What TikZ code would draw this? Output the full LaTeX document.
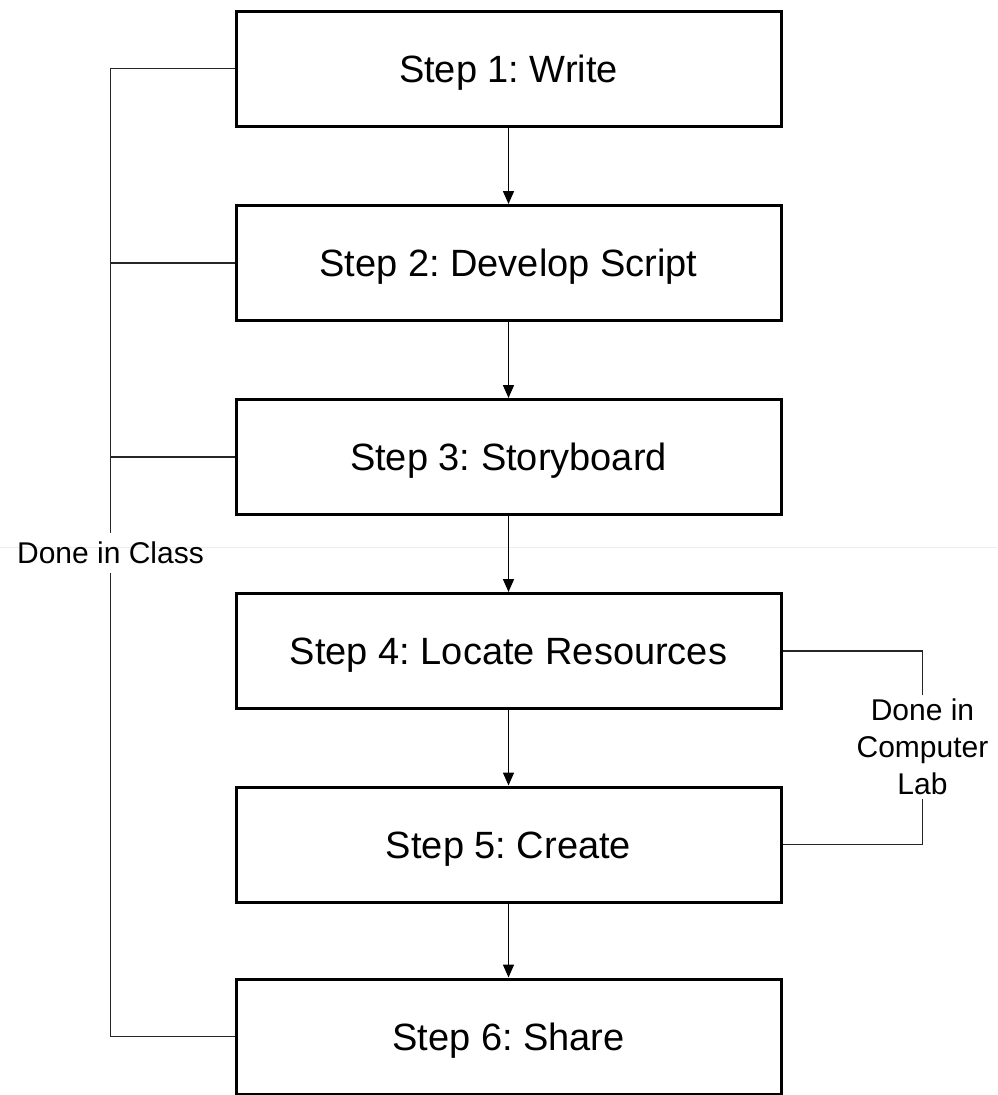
\documentclass[tikz,border=0pt]{standalone}
\usepackage{fontspec}
\setmainfont{Liberation Sans}
\usetikzlibrary{arrows.meta}
\begin{document}
\frenchspacing
\begin{tikzpicture}[x=1pt,y=1pt,
  stepbox/.style={draw=black,line width=3pt,minimum width=545pt,minimum height=115pt,inner sep=0pt,text height=27pt,text depth=0pt,font=\fontsize{38}{46}\selectfont},
  link/.style={draw=black!85,line width=1.5pt},
  flow/.style={draw=black,line width=1.5pt,-{Triangle[width=11pt,length=13pt]}},
  lbl/.style={font=\fontsize{30}{37}\selectfont,align=center,inner xsep=0pt}
]
\useasboundingbox (0,0) rectangle (997,-1095);
\draw[black!7,line width=0.8pt] (0,-547) -- (997,-547);
\node[stepbox] (b1) at (508.5,-68.5) {Step 1: Write};
\node[stepbox] (b2) at (508.5,-263) {Step 2: Develop Script};
\node[stepbox] (b3) at (508.5,-457) {Step 3: Storyboard};
\node[stepbox] (b4) at (508.5,-651) {Step 4: Locate Resources};
\node[stepbox] (b5) at (508.5,-844.5) {Step 5: Create};
\node[stepbox] (b6) at (508.5,-1036.5) {Step 6: Share};
\draw[flow] (b1.south) -- (b2.north);
\draw[flow] (b2.south) -- (b3.north);
\draw[flow] (b3.south) -- (b4.north);
\draw[flow] (b4.south) -- (b5.north);
\draw[flow] (b5.south) -- (b6.north);
\node[lbl,inner ysep=9pt] (cls) at (110.5,-553) {Done in Class};
\draw[link] (b1.west) -| (cls.north);
\draw[link] (cls.south) |- (b6.west);
\draw[link] (b2.west) -- (b2.west -| cls.north);
\draw[link] (b3.west) -- (b3.west -| cls.north);
\node[lbl,inner ysep=4pt] (lab) at (922.5,-747) {Done in\\Computer\\Lab};
\draw[link] (b4.east) -| (lab.north);
\draw[link] (lab.south) |- (b5.east);
\end{tikzpicture}
\end{document}
